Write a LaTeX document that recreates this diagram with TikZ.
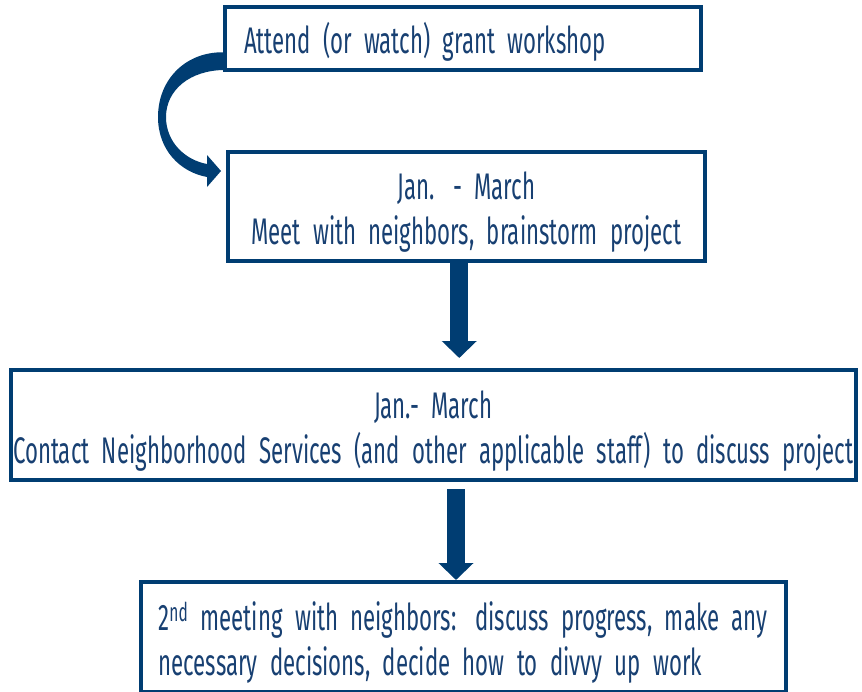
\documentclass[tikz,border=0pt]{standalone}
\usepackage{fontspec}
\setmainfont[FakeStretch=0.6]{Fira Sans}
\usetikzlibrary{arrows.meta}
\definecolor{navy}{RGB}{0,61,114}
\definecolor{inkblue}{RGB}{24,64,114}

\begin{document}
\begin{tikzpicture}[x=1pt, y=-1pt,
	box/.style={rectangle, draw=navy, line width=4pt, inner sep=0pt, text=inkblue, font=\fontsize{37}{45}\selectfont},
	fatarrow/.style={draw=navy, line width=18pt, -{Triangle[width=34pt,length=17pt]}}]

\useasboundingbox (0,0) rectangle (862,691);

\node[box, minimum width=476pt, minimum height=63.5pt, text width=438pt, align=left] (b1) at (463,38.25) {\rule{0pt}{39pt}Attend (or watch) grant workshop};
\node[box, minimum width=477.5pt, minimum height=109pt, text width=472pt, align=center] (b2) at (466.25,206) {\rule{0pt}{39pt}Jan. - March\\Meet with neighbors, brainstorm project};
\node[box, minimum width=845.5pt, minimum height=110pt, text width=845pt, align=center] (b3) at (433.25,425) {\rule{0pt}{39pt}Jan.- March\\Contact Neighborhood Services (and other applicable staff) to discuss project};
\node[box, minimum width=645pt, minimum height=110pt, text width=610pt, align=left] (b4) at (463.5,637) {\rule{0pt}{39pt}2\textsuperscript{nd} meeting with neighbors: discuss progress, make any\\necessary decisions, decide how to divvy up work};

\draw[fatarrow, shorten >=10pt] ([xshift=-7pt]b2.south) -- ([xshift=-7pt]b2.south |- b3.north);
\draw[fatarrow, shorten <=7pt] ([xshift=-7.5pt]b4.north |- b3.south) -- ([xshift=-7.5pt]b4.north);

\coordinate (cs) at ([shift={(0,14)}]b1.west);
\coordinate (ct) at ([shift={(-4.5,21.5)}]b2.north west);
\fill[navy] (cs) .. controls (185,52) and (158,80) .. (158,117)
	.. controls (158,150) and (180,172) .. (207,177)
	-- (207,187) -- (ct) -- (207,155) -- (207,164)
	.. controls (185,160) and (166,142) .. (166,117)
	.. controls (166,90) and (190,70) .. (225,70) -- cycle;

\end{tikzpicture}
\end{document}
